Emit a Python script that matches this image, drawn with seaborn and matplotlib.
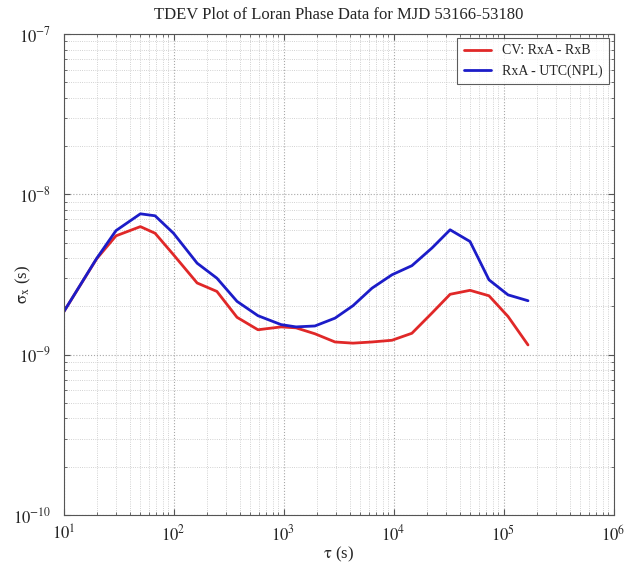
import numpy as np
import pandas as pd
import matplotlib
matplotlib.use('Agg')
import matplotlib.pyplot as plt
import seaborn as sns
from matplotlib.ticker import FixedLocator, NullFormatter

# averaging times (s)
tau = [10, 20, 30, 50, 68, 100, 164, 248, 378, 586, 950, 1300, 1930, 2940,
       4280, 6380, 9690, 14700, 22400, 32700, 49600, 73800, 110000, 167000]

# TDEV values (s)
cv_rxa_rxb = [1.84e-9, 3.96e-9, 5.51e-9, 6.29e-9, 5.72e-9, 4.20e-9, 2.80e-9, 2.48e-9,
              1.71e-9, 1.43e-9, 1.49e-9, 1.47e-9, 1.35e-9, 1.20e-9, 1.18e-9, 1.20e-9,
              1.23e-9, 1.36e-9, 1.82e-9, 2.38e-9, 2.52e-9, 2.33e-9, 1.73e-9, 1.15e-9]
rxa_utc = [1.84e-9, 3.98e-9, 5.94e-9, 7.56e-9, 7.35e-9, 5.72e-9, 3.72e-9, 3.00e-9,
           2.15e-9, 1.75e-9, 1.54e-9, 1.49e-9, 1.51e-9, 1.69e-9, 2.02e-9, 2.60e-9,
           3.15e-9, 3.59e-9, 4.63e-9, 6.01e-9, 5.08e-9, 2.93e-9, 2.36e-9, 2.17e-9]

series_names = ['CV: RxA - RxB', 'RxA - UTC(NPL)']

x_exps = [1, 2, 3, 4, 5, 6]
y_exps = [-10, -9, -8, -7]

df = pd.concat([
    pd.DataFrame({'tau': tau, 'tdev': cv_rxa_rxb, 'series': series_names[0]}),
    pd.DataFrame({'tau': tau, 'tdev': rxa_utc, 'series': series_names[1]}),
])

sns.set_style('ticks')
plt.rcParams['font.family'] = ['Liberation Serif', 'DejaVu Serif']
plt.rcParams['mathtext.fontset'] = 'stix'

fig = plt.figure(figsize=(6.25, 5.65), dpi=100)
ax = fig.add_axes([0.1016, 0.0885, 0.88, 0.8513])

sns.lineplot(data=df, x='tau', y='tdev', hue='series', hue_order=series_names,
             palette=['#e02828', '#1c1cc8'], linewidth=2, ax=ax, sort=False)

ax.set_xscale('log')
ax.set_yscale('log')
ax.set_xlim(10.0 ** x_exps[0], 10.0 ** x_exps[-1])
ax.set_ylim(10.0 ** y_exps[0], 10.0 ** y_exps[-1])


def minor_positions(exps):
    return [m * 10.0 ** e for e in exps[:-1] for m in range(2, 10)]


ax.set_xticks([10.0 ** e for e in x_exps])
ax.set_xticklabels([rf'$10^{{{e}}}$' for e in x_exps])
ax.set_yticks([10.0 ** e for e in y_exps])
ax.set_yticklabels([rf'$10^{{{e}}}$' for e in y_exps])
ax.xaxis.set_minor_locator(FixedLocator(minor_positions(x_exps)))
ax.yaxis.set_minor_locator(FixedLocator(minor_positions(y_exps)))
ax.xaxis.set_minor_formatter(NullFormatter())
ax.yaxis.set_minor_formatter(NullFormatter())

ax.grid(True, which='major', color='#a8a8a8', linestyle=':', linewidth=0.8)
ax.grid(True, which='minor', color='#c4c4c4', linestyle=':', linewidth=0.6)

ax.tick_params(which='both', direction='in', top=True, right=True, labelsize=12,
               color='#555555')
ax.tick_params(which='major', length=4)
ax.tick_params(which='minor', length=2)
ax.tick_params(axis='x', which='major', pad=7)
ax.tick_params(axis='y', which='major', pad=9)
for s in ax.spines.values():
    s.set_color('#555555')
    s.set_linewidth(0.8)

ax.set_title('TDEV Plot of Loran Phase Data for MJD 53166-53180', fontsize=12, pad=11)
ax.set_xlabel(r'$\mathrm{\tau}$ (s)', fontsize=12, labelpad=0)
ax.set_ylabel(r'$\mathrm{\sigma_x}$ (s)', fontsize=12)
ax.yaxis.set_label_coords(-0.055, 0.48)

leg = ax.legend(loc='upper right', fontsize=10, frameon=True, fancybox=False,
                borderaxespad=0.3, handlelength=2.0, borderpad=0.45, labelspacing=0.5)
leg.get_frame().set_edgecolor('#333333')
leg.get_frame().set_linewidth(0.8)
leg.set_title(None)

fig.savefig('out.png', dpi=100)
